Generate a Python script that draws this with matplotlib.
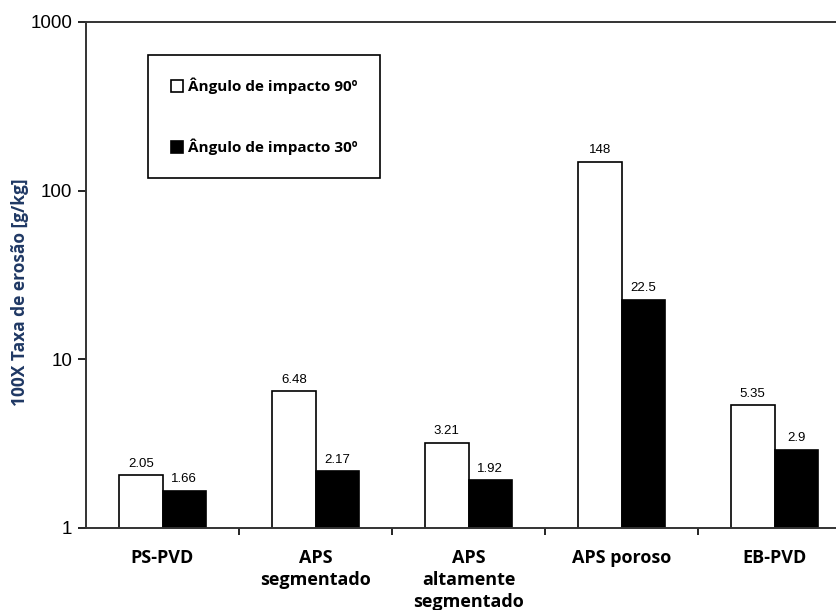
import matplotlib.pyplot as plt
import numpy as np
from matplotlib.patches import Patch

categorias = ["PS-PVD", "APS\nsegmentado", "APS\naltamente\nsegmentado", "APS poroso", "EB-PVD"]
taxa_90 = [2.05, 6.48, 3.21, 148, 5.35]
taxa_30 = [1.66, 2.17, 1.92, 22.5, 2.9]
rotulo_90 = "Ângulo de impacto 90º"
rotulo_30 = "Ângulo de impacto 30º"

fig = plt.figure(figsize=(8.36, 6.10), dpi=100)
ax = fig.add_axes([86/836, 82/610, 765/836, 506/610])

x = np.arange(len(categorias))
w = 0.284
b1 = ax.bar(x - w/2, taxa_90, w, color="white", edgecolor="black", linewidth=1.2)
b2 = ax.bar(x + w/2, taxa_30, w, color="black", edgecolor="black", linewidth=1.2)

ax.set_yscale("log")
ax.set_ylim(1, 1000)
ax.set_xlim(-0.5, 4.5)

# valores em cima das barras
for xi, v in zip(x - w/2, taxa_90):
    ax.annotate(f"{v:g}", (xi, v), xytext=(0, 4), textcoords="offset points",
                ha="center", va="bottom", fontsize=9.5, family="Liberation Sans")
for xi, v in zip(x + w/2, taxa_30):
    ax.annotate(f"{v:g}", (xi, v), xytext=(0, 4), textcoords="offset points",
                ha="center", va="bottom", fontsize=9.5, family="Liberation Sans")

ax.set_yticks([1, 10, 100, 1000])
ax.set_yticklabels(["1", "10", "100", "1000"], family="Liberation Sans", fontsize=13.5)
ax.yaxis.set_minor_locator(plt.NullLocator())
ax.tick_params(axis="y", direction="out", length=6, width=1.2, pad=4)

ax.set_xticks(x)
ax.set_xticklabels(categorias, family="Open Sans", fontweight="bold", fontsize=13,
                   linespacing=1.3)
ax.set_xticks(x[:-1] + 0.5, minor=True)
ax.tick_params(axis="x", which="major", length=0, pad=15)
ax.tick_params(axis="x", which="minor", direction="out", length=5, width=1.2)

for s in ["left", "bottom", "top"]:
    ax.spines[s].set_linewidth(1.4)
    ax.spines[s].set_color("#333333")
ax.spines["right"].set_visible(False)

ax.set_ylabel("100X Taxa de erosão [g/kg]", family="Open Sans", fontweight="bold",
              fontsize=12.5, color="#1f3864")
ax.yaxis.set_label_coords(-0.075, 0.466)

handles = [Patch(facecolor="white", edgecolor="black", linewidth=1.2),
           Patch(facecolor="black", edgecolor="black", linewidth=1.2)]
leg = ax.legend(handles, [rotulo_90, rotulo_30], loc="upper left",
                bbox_to_anchor=(148/836, 1 - 55/610), bbox_transform=fig.transFigure,
                frameon=True, fancybox=False, edgecolor="black", framealpha=1,
                handlelength=0.8, handleheight=0.8, handletextpad=0.3,
                labelspacing=2.9, borderpad=1.5, borderaxespad=0,
                prop={"family": "Open Sans", "weight": "bold", "size": 11})
leg.get_frame().set_linewidth(1.2)

plt.savefig("out.png", dpi=100)
